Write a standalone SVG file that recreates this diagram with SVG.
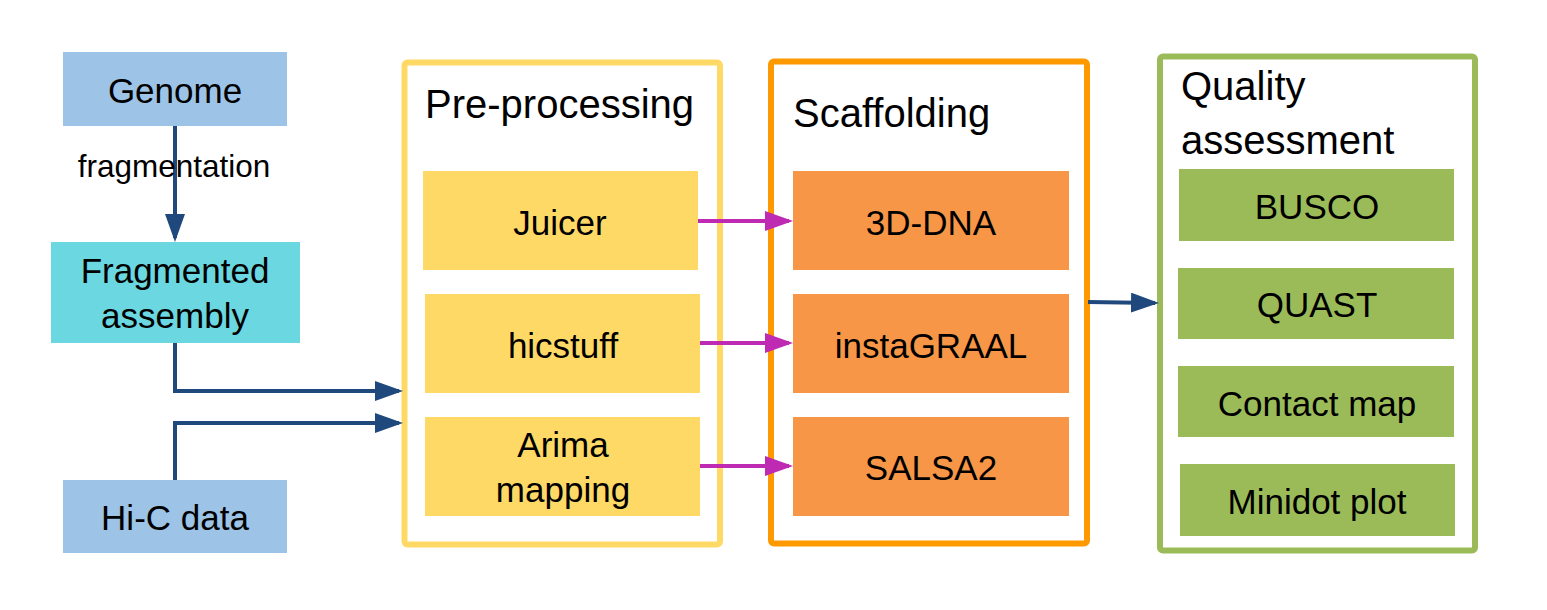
<svg xmlns="http://www.w3.org/2000/svg" width="1547" height="610" viewBox="0 0 1547 610">
<style>
text{font-family:"Liberation Sans",Arial,sans-serif;fill:#000}
.t{font-size:35px;text-anchor:middle}
.h{font-size:40px}
.lbl{font-size:31.5px;text-anchor:middle}
.in{fill:#9DC3E6}
.frag{fill:#6AD7E1}
.yb{fill:#FFD966}
.ob{fill:#F79646}
.gb{fill:#9BBB59}
.frame{fill:#fff;stroke-width:6}
.blue{fill:none;stroke:#1F497D;stroke-width:4}
.mag{fill:none;stroke:#BF2AB3;stroke-width:4}
</style>
<defs>
<marker id="ab" markerUnits="userSpaceOnUse" markerWidth="28" markerHeight="20" refX="24" refY="10" orient="auto">
<path d="M0,0 L28,10 L0,20 z" fill="#1F497D"/>
</marker>
<marker id="am" markerUnits="userSpaceOnUse" markerWidth="28" markerHeight="20" refX="24" refY="10" orient="auto">
<path d="M0,0 L28,10 L0,20 z" fill="#BF2AB3"/>
</marker>
</defs>
<rect width="1547" height="610" fill="#fff"/>

<g id="preprocessing">
<rect class="frame" x="404.5" y="62.5" width="315.5" height="482" rx="3" stroke="#FFD966"/>
<text class="h" x="425" y="118">Pre-processing</text>
</g>
<g id="scaffolding">
<rect class="frame" x="771" y="61.5" width="316" height="482" rx="3" stroke="#FF9900"/>
<text class="h" x="793" y="127">Scaffolding</text>
</g>
<g id="quality">
<rect class="frame" x="1160" y="56.5" width="315" height="494" rx="3" stroke="#9BBB59"/>
<text class="h" x="1181" y="100">Quality</text>
<text class="h" x="1181" y="154">assessment</text>
</g>

<g id="genome">
<rect class="in" x="63" y="52" width="224" height="74"/>
<text class="t" x="175" y="103">Genome</text>
</g>
<g id="fragmented">
<rect class="frag" x="51" y="242" width="249" height="101"/>
<text class="t" x="175" y="283">Fragmented</text>
<text class="t" x="175" y="328">assembly</text>
</g>
<g id="hic">
<rect class="in" x="63" y="480" width="224" height="73"/>
<text class="t" x="175" y="530">Hi-C data</text>
</g>

<g id="juicer">
<rect class="yb" x="423" y="171" width="275" height="99"/>
<text class="t" x="560" y="235">Juicer</text>
</g>
<g id="hicstuff">
<rect class="yb" x="425" y="294" width="275" height="99"/>
<text class="t" x="563" y="358">hicstuff</text>
</g>
<g id="arima">
<rect class="yb" x="425" y="417" width="275" height="99"/>
<text class="t" x="563" y="457">Arima</text>
<text class="t" x="563" y="502">mapping</text>
</g>

<g id="dna3d">
<rect class="ob" x="793" y="171" width="276" height="99"/>
<text class="t" x="931" y="235">3D-DNA</text>
</g>
<g id="instagraal">
<rect class="ob" x="793" y="294" width="276" height="99"/>
<text class="t" x="931" y="358">instaGRAAL</text>
</g>
<g id="salsa2">
<rect class="ob" x="793" y="417" width="276" height="99"/>
<text class="t" x="931" y="480">SALSA2</text>
</g>

<g id="busco">
<rect class="gb" x="1179" y="169" width="275" height="72"/>
<text class="t" x="1317" y="219">BUSCO</text>
</g>
<g id="quast">
<rect class="gb" x="1178" y="268" width="276" height="71"/>
<text class="t" x="1317" y="317">QUAST</text>
</g>
<g id="contactmap">
<rect class="gb" x="1178" y="366" width="276" height="71"/>
<text class="t" x="1317" y="416">Contact map</text>
</g>
<g id="minidot">
<rect class="gb" x="1180" y="464" width="275" height="72"/>
<text class="t" x="1317" y="514">Minidot plot</text>
</g>

<g id="connectors">
<path class="blue" d="M175,126 V238" marker-end="url(#ab)"/>
<path class="blue" d="M175,343 V391 H399" marker-end="url(#ab)"/>
<path class="blue" d="M175,480 V423 H399" marker-end="url(#ab)"/>
<path class="blue" d="M1088,302 L1155,303" marker-end="url(#ab)"/>
<path class="mag" d="M698,221 H789" marker-end="url(#am)"/>
<path class="mag" d="M700,343 H789" marker-end="url(#am)"/>
<path class="mag" d="M700,466 H789" marker-end="url(#am)"/>
</g>
<text class="lbl" x="174" y="177">fragmentation</text>
</svg>
